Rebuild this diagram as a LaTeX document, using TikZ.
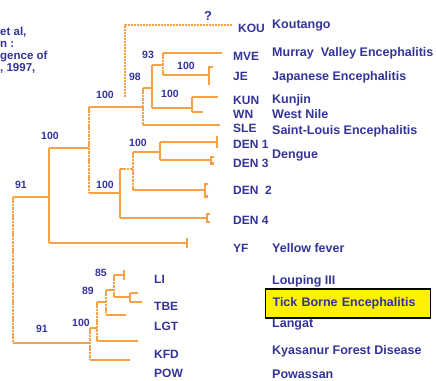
\documentclass[tikz,border=0pt]{standalone}
\usepackage{fontspec}
\setmainfont{Liberation Sans}
\usetikzlibrary{arrows.meta}
\definecolor{treeorange}{RGB}{246,160,72}
\definecolor{labelblue}{RGB}{51,51,153}
\tikzset{
  branch/.style={draw=treeorange, line width=2.3pt},
  dashbranch/.style={branch, dash pattern=on 2.5pt off 0.9pt},
  tick/.style={-{Bar[width=#1]}},
  hook/.style={-{Bracket[reversed, width=#1, length=3pt]}},
}

\begin{document}
\begin{tikzpicture}[x=1pt, y=-1pt,
    abbr/.style={text=labelblue, anchor=base west, inner sep=0pt,
      font=\bfseries\fontsize{12}{14}\selectfont},
    virus/.style={abbr, font=\bfseries\fontsize{12.5}{14}\selectfont},
    boot/.style={text=labelblue, inner sep=0pt,
      font=\bfseries\fontsize{10.5}{12}\selectfont}]

  \useasboundingbox (0,0) rectangle (436,380);

  % --- Source note (cut off at the left) ---
  \node[text=labelblue, anchor=north west, inner sep=0pt, align=left,
    font=\bfseries\fontsize{11.5}{12}\selectfont] (source) at (0,26.5)
    {et al,\\n :\\gence of\\, 1997,};

  % --- Junctions ---
  \coordinate (r) at (13,270);
  \coordinate (a) at (49,197);
  \coordinate (b) at (89,148);
  \coordinate (c) at (143,107);
  \coordinate (e) at (152,88);
  \coordinate (f) at (163,65);
  \coordinate (g) at (192,108);
  \coordinate (d) at (120,193);
  \coordinate (h) at (133,169);
  \coordinate (i) at (160,152);
  \coordinate (j) at (90,343);
  \coordinate (k) at (97,328);
  \coordinate (l) at (106,302);
  \coordinate (m) at (114,290);
  \coordinate (n) at (130,297);

  % --- Branch tips ---
  \coordinate (kou) at (232,25);
  \coordinate (koubase) at (125,97);
  \coordinate (mve) at (222,53);
  \coordinate (je) at (209,75);
  \coordinate (jetop) at (213,67);
  \coordinate (jebot) at (209,85);
  \coordinate (kun) at (218,97);
  \coordinate (wn) at (203,112);
  \coordinate (sle) at (220,125);
  \coordinate (den1) at (218,142);
  \coordinate (den3) at (214,160);
  \coordinate (den2) at (208,190);
  \coordinate (den4) at (210,218);
  \coordinate (yf) at (188,243);
  \coordinate (li) at (125,275);
  \coordinate (tbea) at (138,293);
  \coordinate (tbeb) at (142,302);
  \coordinate (lgt) at (126,315);
  \coordinate (kfd) at (138,341);
  \coordinate (pow) at (130,360);

  % --- Mosquito-borne clade ---
  \draw[dashbranch] (r |- a) -- (r |- j);
  \draw[branch] (r |- a) -- (a);
  \draw[branch] (r |- j) -- (j);

  \draw[branch] (a |- b) -- (a |- yf);
  \draw[branch] (a |- b) -- (b);
  \draw[branch, tick=10pt] (a |- yf) -- (yf);

  \draw[dashbranch] (b |- c) -- (b |- d);
  \draw[branch] (b |- c) -- (c);
  \draw[branch] (b |- d) -- (d);

  \draw[dashbranch, line width=1.6pt, dash pattern=on 2pt off 1pt] (koubase) |- (kou);

  \draw[dashbranch] (c |- e) -- (c |- sle);
  \draw[branch] (c |- e) -- (e);
  \draw[branch] (c |- sle) -- (sle);

  \draw[branch] (e |- f) -- (e |- g);
  \draw[branch] (e |- f) -- (f);
  \draw[branch] (e |- g) -- (g);

  \draw[dashbranch] (f |- mve) -- (f |- je);
  \draw[branch] (f |- mve) -- (mve);
  \draw[branch] (f |- je) -- (je);
  \draw[branch] (jetop) -| (jebot);

  \draw[branch] (g |- kun) -- (g |- wn);
  \draw[branch] (g |- kun) -- (kun);
  \draw[branch] (g |- wn) -- (wn);

  % dengue
  \draw[branch] (d |- h) -- (d |- den4);
  \draw[dashbranch] (d |- h) -- (h);
  \draw[branch, hook=10pt] (d |- den4) -- (den4);

  \draw[dashbranch] (h |- i) -- (h |- den2);
  \draw[branch] (h |- i) -- (i);
  \draw[branch, hook=15pt] (h |- den2) -- (den2);

  \draw[branch] (i |- den1) -- (i |- den3);
  \draw[branch, tick=12pt] (i |- den1) -- (den1);
  \draw[branch, hook=9pt] (i |- den3) -- (den3);

  % --- Tick-borne clade ---
  \draw[dashbranch] (j |- k) -- (j |- pow);
  \draw[branch] (j |- k) -- (k);
  \draw[branch] (j |- pow) -- (pow);

  \draw[dashbranch] (k |- l) -- (k |- kfd);
  \draw[branch] (k |- l) -- (l);
  \draw[branch] (k |- kfd) -- (kfd);

  \draw[dashbranch] (l |- m) -- (l |- lgt);
  \draw[branch] (l |- m) -- (m);
  \draw[branch] (l |- lgt) -- (lgt);

  \draw[dashbranch] (m |- li) -- (m |- n);
  \draw[branch, tick=10pt] (m |- li) -- (li);
  \draw[branch] (m |- n) -- (n);

  \draw[branch] (n |- tbea) -- (n |- tbeb);
  \draw[branch] (n |- tbea) -- (tbea);
  \draw[branch] (n |- tbeb) -- (tbeb);

  % --- Bootstrap values ---
  \node[boot] (bs91top) at (21,185) {91};
  \node[boot] (bs100a) at (50,136) {100};
  \node[boot] (bs100b) at (105,95) {100};
  \node[boot] (bs98) at (135,77) {98};
  \node[boot] (bs93) at (148,55) {93};
  \node[boot] (bs100je) at (186,66) {100};
  \node[boot] (bs100kun) at (170,94) {100};
  \node[boot] (bs100d) at (105,185) {100};
  \node[boot] (bs100h) at (138,143) {100};
  \node[boot] (bs85) at (101,273) {85};
  \node[boot] (bs89) at (88,291) {89};
  \node[boot] (bs100k) at (81,323) {100};
  \node[boot] (bs91low) at (42,329) {91};
  \node[boot, font=\bfseries\fontsize{13}{14}\selectfont] (unknown) at (208,16) {?};

  % --- Abbreviations ---
  \node[abbr] (tKOU) at (238,32) {KOU};
  \node[abbr] (tMVE) at (233,60) {MVE};
  \node[abbr] (tJE) at (233,80) {JE};
  \node[abbr] (tKUN) at (233,104) {KUN};
  \node[abbr] (tWN) at (233,118) {WN};
  \node[abbr] (tSLE) at (233,132) {SLE};
  \node[abbr] (tDENa) at (233,148) {DEN 1};
  \node[abbr] (tDENc) at (233,167) {DEN 3};
  \node[abbr] (tDENb) at (233,194) {DEN\ \ 2};
  \node[abbr] (tDENd) at (233,224) {DEN 4};
  \node[abbr] (tYF) at (233,252) {YF};
  \node[abbr] (tLI) at (154,283) {LI};
  \node[abbr] (tTBE) at (154,310) {TBE};
  \node[abbr] (tLGT) at (154,330) {LGT};
  \node[abbr] (tKFD) at (154,358) {KFD};
  \node[abbr] (tPOW) at (154,377) {POW};

  % --- Virus names ---
  \node[virus] (nKOU) at (272,28) {Koutango};
  \node[virus] (nMVE) at (272,56) {Murray\ \ Valley Encephalitis};
  \node[virus] (nJE) at (272,80) {Japanese Encephalitis};
  \node[virus] (nKUN) at (272,103.5) {Kunjin};
  \node[virus] (nWN) at (272,118) {West\ Nile};
  \node[virus] (nSLE) at (272,134) {Saint-Louis Encephalitis};
  \node[virus] (nDEN) at (272,158) {Dengue};
  \node[virus] (nYF) at (272,252) {Yellow fever};
  \node[virus] (nLI) at (272,284) {Louping III};
  \node[virus, anchor=west, draw=black, line width=1.2pt, fill=yellow,
    text width=151pt, align=left, inner xsep=7pt, minimum height=29pt]
    (nTBE) at (265,303.5) {Tick Borne Encephalitis};
  \node[virus] (nLGT) at (272,327) {Langat};
  \node[virus] (nKFD) at (272,354) {Kyasanur Forest Disease};
  \node[virus] (nPOW) at (272,378) {Powassan};

\end{tikzpicture}
\end{document}
